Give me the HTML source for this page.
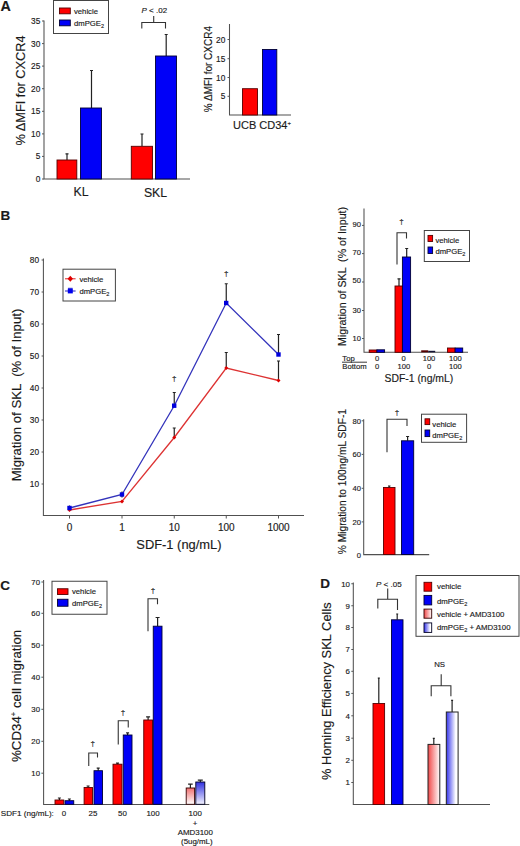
<!DOCTYPE html>
<html><head><meta charset="utf-8">
<style>
html,body{margin:0;padding:0;background:#fff;}
body{width:520px;height:846px;overflow:hidden;}
svg{display:block;font-family:"Liberation Sans",sans-serif;}
.ax{stroke:#505050;stroke-width:1.05;fill:none;}
.tk{stroke:#555;stroke-width:1;}
.eb{stroke:#222;stroke-width:1.2;fill:none;}
.br{stroke:#333;stroke-width:1.1;fill:none;}
.r{fill:#ff0000;stroke:#500;stroke-width:0.9;}
.b{fill:#0000f8;stroke:#003;stroke-width:0.9;}
.lg{fill:#fff;stroke:#444;stroke-width:1;}
text{fill:#1a1a1a;stroke:#1a1a1a;stroke-width:0.15px;}
</style></head>
<body>
<svg width="520" height="846" viewBox="0 0 520 846">
<defs>
<linearGradient id="gRv" x1="0" y1="0" x2="0" y2="1"><stop offset="0" stop-color="#f07070"/><stop offset="1" stop-color="#fff"/></linearGradient>
<linearGradient id="gBv" x1="0" y1="0" x2="0" y2="1"><stop offset="0" stop-color="#3030e0"/><stop offset="1" stop-color="#f4f4ff"/></linearGradient>
<linearGradient id="gRh" x1="0" y1="0" x2="1" y2="0"><stop offset="0" stop-color="#f04848"/><stop offset="1" stop-color="#fff"/></linearGradient>
<linearGradient id="gBh2" x1="0" y1="0" x2="1" y2="0"><stop offset="0" stop-color="#3434ec"/><stop offset="0.8" stop-color="#fff"/><stop offset="1" stop-color="#fff"/></linearGradient>
<linearGradient id="gBh" x1="0" y1="0" x2="1" y2="0"><stop offset="0" stop-color="#fff"/><stop offset="1" stop-color="#2020e0"/></linearGradient>
</defs>

<!-- ================= PANEL A ================= -->
<text x="0.6" y="10.8" font-size="14.3" font-weight="bold" stroke="#000" stroke-width="0.4">A</text>
<!-- legend -->
<rect class="lg" x="53.5" y="0.5" width="55" height="33" stroke-width="1.2"/>
<rect class="r" x="59.5" y="8" width="10.8" height="5.8"/>
<rect class="b" x="59.5" y="20" width="10.8" height="5.8"/>
<text x="74" y="13.5" font-size="7.7">vehicle</text>
<text x="74" y="25.6" font-size="7.7">dmPGE<tspan font-size="5.5" dy="2">2</tspan></text>
<!-- y label -->
<text transform="translate(24.6,90.4) rotate(-90)" font-size="12.8" text-anchor="middle">% ΔMFI for CXCR4</text>
<!-- axis -->
<path class="ax" d="M44,20.5 V179 H190"/>
<g class="tk"><path d="M42,21H44 M42,43.6H44 M42,66.1H44 M42,88.7H44 M42,111.3H44 M42,133.9H44 M42,156.4H44 M42,179H44"/></g>
<g font-size="8.3" text-anchor="end">
<text x="40.3" y="24">35</text><text x="40.3" y="46.6">30</text><text x="40.3" y="69.1">25</text><text x="40.3" y="91.7">20</text><text x="40.3" y="114.3">15</text><text x="40.3" y="136.9">10</text><text x="40.3" y="159.4">5</text><text x="40.3" y="182">0</text>
</g>
<!-- bars -->
<path class="eb" d="M67,160V153.8 M65.5,153.8H68.5"/>
<rect class="r" x="57" y="160" width="19.8" height="19"/>
<path class="eb" d="M91.5,108V70.5 M90,70.5H93"/>
<rect class="b" x="80.5" y="108" width="21" height="71"/>
<path class="eb" d="M142,146.3V134 M140.5,134H143.5"/>
<rect class="r" x="131.3" y="146.3" width="21.2" height="32.7"/>
<path class="eb" d="M166.2,56V34.5 M164.7,34.5H167.7"/>
<rect class="b" x="155.5" y="56" width="21" height="123"/>
<!-- bracket -->
<path class="br" d="M141.8,28.5V22.5H165.5V28.5 M153.7,22.5V16"/>
<text x="141.5" y="12.5" font-size="8"><tspan font-style="italic">P</tspan> &lt; .02</text>
<text x="81" y="195.5" font-size="12.3" text-anchor="middle">KL</text>
<text x="155.5" y="197" font-size="12.3" text-anchor="middle">SKL</text>

<!-- inset -->
<text transform="translate(212,69.1) rotate(-90)" font-size="10" text-anchor="middle">% ΔMFI for CXCR4</text>
<path class="ax" d="M229.5,24V115H291"/>
<g class="tk"><path d="M227.5,39.5H229.5 M227.5,58.7H229.5 M227.5,77.5H229.5 M227.5,96.3H229.5"/></g>
<g font-size="8.3" text-anchor="end">
<text x="225.3" y="42.5">20</text><text x="225.3" y="61.7">15</text><text x="225.3" y="80.5">10</text><text x="225.3" y="99.3">5</text>
</g>
<rect class="r" x="242.5" y="88.7" width="15" height="26.3"/>
<rect class="b" x="262.5" y="49.5" width="14.3" height="65.5"/>
<text x="233" y="129" font-size="11">UCB CD34<tspan font-size="6" dy="-4">+</tspan></text>

<!-- ================= PANEL B main ================= -->
<text x="0.6" y="220.3" font-size="13.5" font-weight="bold" stroke="#000" stroke-width="0.4">B</text>
<text transform="translate(21,394.9) rotate(-90)" font-size="13.2" text-anchor="middle" xml:space="preserve">Migration of SKL  (% of Input)</text>
<path class="ax" d="M43.4,258.5V515.5H304"/>
<g class="tk"><path d="M41.6,260H43.4 M41.6,292H43.4 M41.6,324H43.4 M41.6,356H43.4 M41.6,388H43.4 M41.6,420H43.4 M41.6,452H43.4 M41.6,484H43.4
 M69.5,515.5V518.5 M122,515.5V518.5 M174.25,515.5V518.5 M226.25,515.5V518.5 M278.5,515.5V518.5"/></g>
<g font-size="8.3" text-anchor="end">
<text x="39" y="263">80</text><text x="39" y="295">70</text><text x="39" y="327">60</text><text x="39" y="359">50</text><text x="39" y="391">40</text><text x="39" y="423">30</text><text x="39" y="455">20</text><text x="39" y="487">10</text>
</g>
<g font-size="10" text-anchor="middle">
<text x="69.5" y="531.3">0</text><text x="122" y="531.3">1</text><text x="174.25" y="531.3">10</text><text x="226.25" y="531.3">100</text><text x="278.5" y="531.3">1000</text>
</g>
<text x="136.3" y="549" font-size="12.9">SDF-1 (ng/mL)</text>
<!-- legend -->
<rect class="lg" x="63" y="269.2" width="52.4" height="31.8"/>
<path d="M65,278.8H75.6" stroke="#e02020" stroke-width="1"/>
<path d="M70.3,275.8L73,278.8L70.3,281.8L67.6,278.8Z" fill="#e00000"/>
<path d="M65,291H75.6" stroke="#2020c0" stroke-width="1"/>
<rect x="67.8" y="288.6" width="5" height="4.8" fill="#0000ee"/><path d="M68,288.3H72.6" stroke="#0000cc" stroke-width="0.8"/>
<text x="79.4" y="281.8" font-size="7.7">vehicle</text>
<text x="79.4" y="293.6" font-size="7.7">dmPGE<tspan font-size="5.5" dy="2">2</tspan></text>
<!-- error bars -->
<g class="eb" stroke-width="1.1">
<path d="M174.25,405.75V392.5 M172.75,392.5H175.75"/>
<path d="M226.25,303V283.75 M224.75,283.75H227.75"/>
<path d="M278.5,354.5V334.5 M277,334.5H280"/>
<path d="M174.25,437.5V428 M172.75,428H175.75"/>
<path d="M226.25,368V352.5 M224.75,352.5H227.75"/>
<path d="M278.5,380.5V361 M277,361H280"/>
<path d="M69.5,505.5V510.5 M122,491.5V497.5"/>
</g>
<!-- lines -->
<polyline points="69.5,510 122,501.5 174.25,437.5 226.25,368 278.5,380.5" fill="none" stroke="#dd3333" stroke-width="1.3"/>
<polyline points="69.5,508 122,494.5 174.25,405.75 226.25,303 278.5,354.5" fill="none" stroke="#3333bb" stroke-width="1.3"/>
<g fill="#dd0000">
<path d="M69.5,508L71.5,510L69.5,512L67.5,510Z"/><path d="M122,499.5L124,501.5L122,503.5L120,501.5Z"/><path d="M174.25,435.5L176.25,437.5L174.25,439.5L172.25,437.5Z"/><path d="M226.25,366L228.25,368L226.25,370L224.25,368Z"/><path d="M278.5,378.5L280.5,380.5L278.5,382.5L276.5,380.5Z"/>
</g>
<g fill="#0000dd">
<rect x="67.3" y="505.8" width="4.4" height="4.4"/><rect x="119.8" y="492.3" width="4.4" height="4.4"/><rect x="172" y="403.5" width="4.4" height="4.4"/><rect x="224" y="300.8" width="4.4" height="4.4"/><rect x="276.3" y="352.3" width="4.4" height="4.4"/>
</g>
<g font-size="8" text-anchor="middle"><text x="174.25" y="380.5">†</text><text x="226.25" y="275.5">†</text></g>

<!-- ================= PANEL B top-right ================= -->
<text transform="translate(345.5,276.5) rotate(-90)" font-size="10.65" text-anchor="middle" xml:space="preserve">Migration of SKL  (% of Input)</text>
<path class="ax" d="M364,208.5V352.3H468"/>
<g class="tk"><path d="M362,225.4H364 M362,253.6H364 M362,282H364 M362,310.5H364 M362,338.5H364"/></g>
<g font-size="7.6" text-anchor="end">
<text x="361" y="226.6">90</text><text x="361" y="254.8">70</text><text x="361" y="283.3">50</text><text x="361" y="313">30</text><text x="361" y="341">10</text>
</g>
<!-- bars -->
<rect class="r" x="369.2" y="350" width="7.7" height="2.3"/>
<rect class="b" x="376.9" y="349.8" width="7.7" height="2.5"/>
<path class="eb" d="M399,286V278.8 M397.5,278.8H400.5"/>
<rect class="r" x="395" y="286" width="7.4" height="66.3"/>
<path class="eb" d="M406.7,257V248.5 M405.2,248.5H408.2"/>
<rect class="b" x="402.4" y="257" width="8.2" height="95.3"/>
<rect x="421.2" y="350.3" width="7" height="2" fill="#500"/>
<rect x="428.2" y="350.8" width="7" height="1.5" fill="#113"/>
<rect class="r" x="447.5" y="348" width="7.6" height="4.3"/>
<rect class="b" x="455.1" y="348" width="7.6" height="4.3"/>
<path class="br" d="M397,264.4V232.7H406.5V238.5"/>
<text x="401.5" y="224" font-size="8" text-anchor="middle">†</text>
<!-- legend -->
<rect class="lg" x="424.3" y="230.5" width="45.2" height="31"/>
<rect class="r" x="428" y="235.4" width="4.6" height="6.1"/>
<rect class="b" x="428" y="247" width="4.6" height="6.5"/>
<text x="435.4" y="242.6" font-size="7.7">vehicle</text>
<text x="435.4" y="254.2" font-size="7.7">dmPGE<tspan font-size="5.5" dy="2">2</tspan></text>
<!-- x table -->
<g font-size="7.7">
<text x="342.3" y="360.5">Top</text>
<text x="342.3" y="369.2" textLength="24.4" lengthAdjust="spacingAndGlyphs">Bottom</text>
</g>
<path d="M342,362.2H367" stroke="#222" stroke-width="0.9"/>
<g font-size="7.6" text-anchor="middle">
<text x="377.2" y="361.3">0</text><text x="377.2" y="368.8">0</text>
<text x="403.5" y="361.3">0</text><text x="403.8" y="368.8">100</text>
<text x="429" y="361.3">100</text><text x="429" y="368.8">0</text>
<text x="455.3" y="361.3">100</text><text x="455.3" y="368.8">100</text>
</g>
<text x="384.5" y="382" font-size="10.4">SDF-1 (ng/mL)</text>

<!-- ================= PANEL B bottom-right ================= -->
<text transform="translate(346,481.6) rotate(-90)" font-size="10.2" text-anchor="middle">% Migration to 100ng/mL SDF-1</text>
<path class="ax" d="M363.7,419.2V554.6H429.2"/>
<g class="tk"><path d="M361.7,420.8H363.7 M361.7,454.4H363.7 M361.7,488.3H363.7 M361.7,521.9H363.7"/></g>
<g font-size="7.6" text-anchor="end">
<text x="361" y="423.5">80</text><text x="361" y="457.2">60</text><text x="361" y="491">40</text><text x="361" y="524.6">20</text><text x="361" y="558.2">0</text>
</g>
<rect class="r" x="383.5" y="487.5" width="11.5" height="67"/>
<path class="eb" d="M389.2,487.5V486 M388,486H390.5"/>
<path class="eb" d="M407.6,440.8V436.5 M406.1,436.5H409.1"/>
<rect class="b" x="401.5" y="440.8" width="12.2" height="113.7"/>
<path class="br" d="M387,452.3V419.2H407V426"/>
<text x="397" y="414.5" font-size="8" text-anchor="middle">†</text>
<rect class="lg" x="421.5" y="414.2" width="45.1" height="28.1"/>
<rect class="r" x="425" y="418.8" width="4.7" height="5.8"/>
<rect class="b" x="425" y="430" width="4.7" height="6.6"/>
<text x="432.3" y="426.5" font-size="7.7">vehicle</text>
<text x="432.3" y="437.8" font-size="7.7">dmPGE<tspan font-size="5.5" dy="2">2</tspan></text>


<!-- ================= PANEL C ================= -->
<text x="0.3" y="590.3" font-size="13.5" font-weight="bold" stroke="#000" stroke-width="0.4">C</text>
<text transform="translate(20.6,695.9) rotate(-90)" font-size="13.3" text-anchor="middle">%CD34<tspan font-size="7.5" dy="-5">+</tspan><tspan dy="5"> cell migration</tspan></text>
<path class="ax" d="M43.6,580V804.4H209.3"/>
<g class="tk"><path d="M41.4,582H43.6 M41.4,613.3H43.6 M41.4,645.2H43.6 M41.4,677.2H43.6 M41.4,709.3H43.6 M41.4,741.3H43.6 M41.4,773.2H43.6"/></g>
<g font-size="7.8" text-anchor="end">
<text x="40" y="584.8">70</text><text x="40" y="616.1">60</text><text x="40" y="648">50</text><text x="40" y="680">40</text><text x="40" y="712.1">30</text><text x="40" y="744.1">20</text><text x="40" y="776">10</text>
</g>
<!-- error bars -->
<g class="eb" stroke-width="1.1">
<path d="M59.4,800V798 M57.9,798H60.9"/><path d="M69.4,800.7V799 M67.9,799H70.9"/>
<path d="M88.1,787.5V786 M86.6,786H89.6"/><path d="M98.2,770.7V768.2 M96.7,768.2H99.7"/>
<path d="M117.5,764.2V763.2 M116,763.2H119"/><path d="M127.6,735V732.8 M126.1,732.8H129.1"/>
<path d="M148.1,720V716.8 M146.1,716.8H150.1"/><path d="M157.6,626.2V617.5 M155.6,617.5H159.6"/>
<path d="M190.4,788V784.2 M188.1,784.2H192.7"/><path d="M200.3,782V780.2 M197.8,780.2H202.8"/>
</g>
<rect class="r" x="55" y="800" width="8.75" height="4.3"/>
<rect class="b" x="65" y="800.7" width="8.75" height="3.6"/>
<rect class="r" x="84.1" y="787.5" width="8.4" height="16.9"/>
<rect class="b" x="94" y="770.7" width="8.5" height="33.6"/>
<rect class="r" x="113" y="764.2" width="9" height="40.1"/>
<rect class="b" x="123.25" y="735" width="8.75" height="69.3"/>
<rect class="r" x="143.75" y="720" width="8.75" height="84.3"/>
<rect class="b" x="153.25" y="626.2" width="8.75" height="178.1"/>
<rect x="186.2" y="788" width="8.4" height="16.3" fill="url(#gRv)" stroke="#300" stroke-width="0.9"/>
<rect x="195.8" y="782" width="9" height="22.3" fill="url(#gBv)" stroke="#002" stroke-width="0.9"/>
<!-- brackets -->
<path class="br" d="M88.75,766V753H97.5V757.5 M118.25,744.5V720.75H128.25V727.5 M148,631.25V598.75H157.5V604.25"/>
<g font-size="8" text-anchor="middle"><text x="92.8" y="746">†</text><text x="123" y="714.8">†</text><text x="153" y="592.8">†</text></g>
<!-- legend -->
<rect class="lg" x="52" y="581.25" width="55" height="33"/>
<rect class="r" x="57.5" y="588.75" width="10.5" height="5.75"/>
<rect class="b" x="57.5" y="599.25" width="10.5" height="7"/>
<text x="72" y="594.3" font-size="7.7">vehicle</text>
<text x="72" y="606" font-size="7.7">dmPGE<tspan font-size="5.5" dy="2">2</tspan></text>
<!-- x labels -->
<g font-size="8.1">
<text x="0.8" y="816.2">SDF1 (ng/mL):</text>
</g>
<g font-size="7.9" text-anchor="middle">
<text x="64" y="816">0</text><text x="93" y="816">25</text><text x="122.5" y="816">50</text><text x="153" y="816">100</text>
<text x="195.2" y="816">100</text><text x="195" y="826">+</text><text x="195.3" y="834.6">AMD3100</text><text x="196.8" y="844">(5ug/mL)</text>
</g>

<!-- ================= PANEL D ================= -->
<text x="320.3" y="588.3" font-size="13.5" font-weight="bold" stroke="#000" stroke-width="0.4">D</text>
<text transform="translate(330.7,691.1) rotate(-90)" font-size="12.9" text-anchor="middle">% Homing Efficiency SKL Cells</text>
<path class="ax" d="M353.3,582.5V804.5H490"/>
<g class="tk"><path d="M351.3,583.75H353.3 M351.3,605.75H353.3 M351.3,627.5H353.3 M351.3,649.5H353.3 M351.3,671.3H353.3 M351.3,693.4H353.3 M351.3,715.8H353.3 M351.3,738.2H353.3 M351.3,760.3H353.3 M351.3,782.5H353.3"/></g>
<g font-size="7.9" text-anchor="end">
<text x="350" y="586.6">10</text><text x="350" y="608.6">9</text><text x="350" y="630.3">8</text><text x="350" y="652.3">7</text><text x="350" y="674.1">6</text><text x="350" y="696.2">5</text><text x="350" y="718.6">4</text><text x="350" y="741">3</text><text x="350" y="763.1">2</text><text x="350" y="785.3">1</text>
</g>
<g class="eb" stroke-width="1.2">
<path d="M378.8,703.5V678.2 M377.8,678.2H379.8"/>
<path d="M397.2,619.8V614 M396.2,614H398.2"/>
<path d="M433.8,744.4V738.4 M432.8,738.4H434.8"/>
<path d="M452.1,712V700.3 M451.1,700.3H453.1"/>
</g>
<rect class="r" x="373" y="703.5" width="11.6" height="101"/>
<rect class="b" x="391.5" y="619.8" width="11.5" height="184.7"/>
<rect x="428" y="744.4" width="11.8" height="60.1" fill="url(#gRh)" stroke="#222" stroke-width="1"/>
<rect x="446.3" y="712" width="11.8" height="92.5" fill="url(#gBh2)" stroke="#222" stroke-width="1"/>
<path class="br" d="M377.8,608.5V599.2H397.5V610 M387.7,599.2V588.5 M431.2,696.2V685.8H450.9V696.2 M441.2,685.8V674.2" stroke-width="1.3"/>
<text x="376" y="586.6" font-size="8"><tspan font-style="italic">P</tspan> &lt; .05</text>
<text x="434.2" y="667.3" font-size="7.8">NS</text>
<!-- legend -->
<rect class="lg" x="416" y="575.5" width="103" height="60.8"/>
<rect class="r" x="424" y="582.3" width="7.7" height="8.9"/>
<rect class="b" x="424" y="595.4" width="7.7" height="9.5"/>
<rect x="424" y="609.1" width="7.7" height="9.1" fill="url(#gRh)" stroke="#300" stroke-width="0.9"/>
<rect x="424" y="622.9" width="7.7" height="9.5" fill="url(#gBh2)" stroke="#002" stroke-width="0.9"/>
<g font-size="7.8">
<text x="437" y="589.3">vehicle</text>
<text x="437" y="603.5">dmPGE<tspan font-size="5.5" dy="2">2</tspan></text>
<text x="437" y="617.2">vehicle + AMD3100</text>
<text x="437" y="630.3">dmPGE<tspan font-size="5.5" dy="2">2</tspan><tspan dy="-2"> + AMD3100</tspan></text>
</g>

</svg>
</body></html>
